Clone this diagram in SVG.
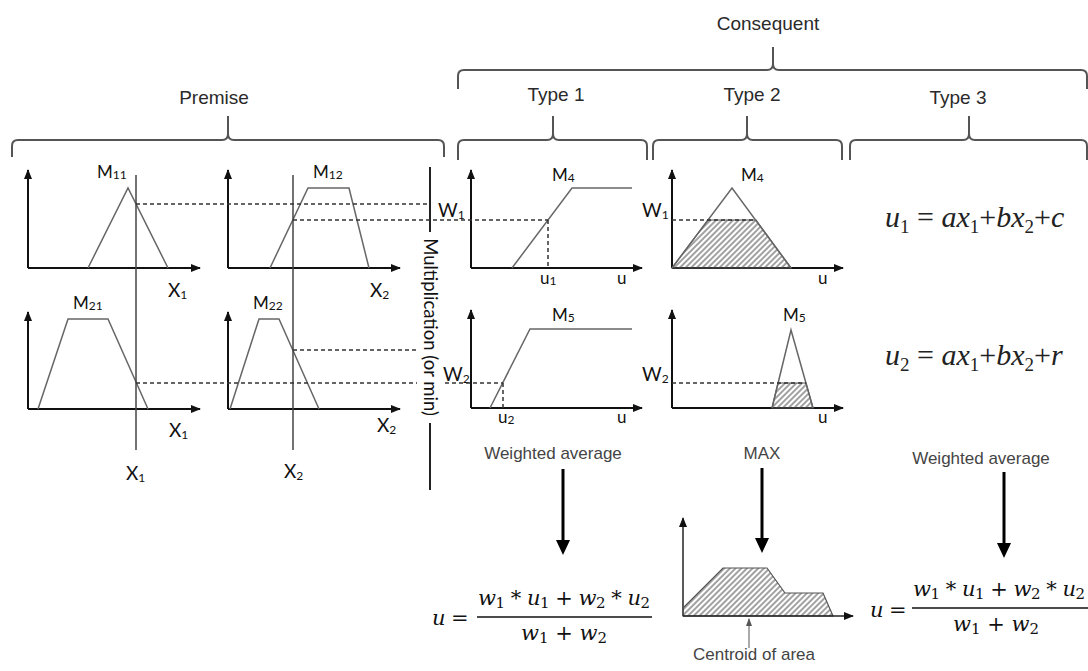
<svg xmlns="http://www.w3.org/2000/svg" width="1088" height="671" viewBox="0 0 1088 671">
<defs>
<style>
.brace{fill:none;stroke:#555;stroke-width:2}
.hd{font-family:"Liberation Sans",Arial,sans-serif;font-size:19px;fill:#2a2a2a;text-anchor:middle}
.ax{fill:none;stroke:#111;stroke-width:2;marker-end:url(#ah)}
.mf{fill:none;stroke:#666;stroke-width:1.5}
.vl{stroke:#444;stroke-width:1.5}
.dash{stroke:#333;stroke-width:1.5;stroke-dasharray:4 3;fill:none}
.lb{font-family:Lato,"Open Sans",sans-serif;font-size:17px;fill:#111}
.lbx{font-family:Lato,"Open Sans",sans-serif;font-size:19px;fill:#111}
.sub{font-size:12px}
.cap{font-family:"Liberation Sans",Arial,sans-serif;font-size:17px;fill:#444;text-anchor:middle}
.big{stroke:#000;stroke-width:3;fill:none;marker-end:url(#bh)}
.hat{fill:url(#hatch);stroke:#555;stroke-width:1.2}
.math{font-family:"DejaVu Serif","Liberation Serif",serif;font-size:21px;fill:#111}
.eq{font-family:"Liberation Serif","Times New Roman",serif;font-size:30px;fill:#222}
.it{font-style:italic}
</style>
<marker id="ah" viewBox="0 0 10 8" refX="9" refY="4" markerWidth="10" markerHeight="8" orient="auto" markerUnits="userSpaceOnUse"><path d="M0,0L10,4L0,8z" fill="#111"/></marker>
<marker id="bh" viewBox="0 0 15 14" refX="10" refY="7" markerWidth="15" markerHeight="14" orient="auto" markerUnits="userSpaceOnUse"><path d="M0,0L15,7L0,14z" fill="#000"/></marker>
<marker id="sh" viewBox="0 0 8 6" refX="7" refY="3" markerWidth="8" markerHeight="6" orient="auto" markerUnits="userSpaceOnUse"><path d="M0,0L8,3L0,6z" fill="#555"/></marker>
<pattern id="hatch" width="4" height="4" patternUnits="userSpaceOnUse" patternTransform="rotate(45)"><line x1="2" y1="0" x2="2" y2="4" stroke="#444" stroke-width="1"/></pattern>
</defs>
<rect width="1088" height="671" fill="#fff"/>

<!-- headers -->
<g id="premise">
<path class="brace" d="M12,157V146Q12,140 18,140H222Q228,140 228,134V116M228,134Q228,140 234,140H438Q444,140 444,146V157"/>
<text class="hd" x="214" y="104">Premise</text>
</g>
<g id="consequent">
<path class="brace" d="M458,89V76Q458,70 464,70H767Q773,70 773,64V47M773,64Q773,70 779,70H1081Q1087,70 1087,76V89"/>
<text class="hd" x="768" y="30">Consequent</text>
</g>
<g id="type1">
<path class="brace" d="M458,160V146Q458,140 464,140H547Q553,140 553,134V116M553,134Q553,140 559,140H641Q647,140 647,146V160"/>
<text class="hd" x="556" y="101">Type 1</text>
</g>
<g id="type2">
<path class="brace" d="M653,160V146Q653,140 659,140H741Q747,140 747,134V116M747,134Q747,140 753,140H836Q842,140 842,146V160"/>
<text class="hd" x="752" y="101">Type 2</text>
</g>
<g id="type3">
<path class="brace" d="M850,160V146Q850,140 856,140H963Q969,140 969,134V116M969,134Q969,140 975,140H1081Q1087,140 1087,146V160"/>
<text class="hd" x="958" y="104">Type 3</text>
</g>

<!-- premise graphs -->
<g id="m11">
<path class="ax" d="M28,268V170"/><path class="ax" d="M28,268H200"/>
<path class="mf" d="M88,268L128,188L168,268"/>
<text class="lb" x="97" y="178">M<tspan class="sub" dy="1">11</tspan></text>
<text class="lbx" x="168" y="297">X<tspan class="sub" dy="2">1</tspan></text>
</g>
<g id="m12">
<path class="ax" d="M228,268V170"/><path class="ax" d="M228,268H400"/>
<path class="mf" d="M270,268L308,188H349L369,268"/>
<text class="lb" x="313" y="178">M<tspan class="sub" dy="1">12</tspan></text>
<text class="lbx" x="370" y="297">X<tspan class="sub" dy="2">2</tspan></text>
</g>
<g id="m21">
<path class="ax" d="M28,409V312"/><path class="ax" d="M28,409H200"/>
<path class="mf" d="M38,409L68,319H108L148,409"/>
<text class="lb" x="73" y="309">M<tspan class="sub" dy="1">21</tspan></text>
<text class="lbx" x="169" y="437">X<tspan class="sub" dy="2">1</tspan></text>
</g>
<g id="m22">
<path class="ax" d="M228,409V312"/><path class="ax" d="M228,409H400"/>
<path class="mf" d="M230,409L259,319H279L319,409"/>
<text class="lb" x="253" y="309">M<tspan class="sub" dy="1">22</tspan></text>
<text class="lbx" x="377" y="432">X<tspan class="sub" dy="2">2</tspan></text>
</g>
<g id="inputs">
<line class="vl" x1="136" y1="175" x2="136" y2="450"/>
<line class="vl" x1="293" y1="175" x2="293" y2="450"/>
<text class="lbx" x="126" y="480">X<tspan class="sub" dy="2">1</tspan></text>
<text class="lbx" x="284" y="478">X<tspan class="sub" dy="2">2</tspan></text>
</g>
<g id="operator">
<line x1="430" y1="167" x2="430" y2="232" stroke="#222" stroke-width="2"/>
<line x1="430" y1="423" x2="430" y2="490" stroke="#222" stroke-width="2"/>
<text class="lb" transform="translate(424,327) rotate(90)" text-anchor="middle" style="font-size:18.5px">Multiplication (or min)</text>
</g>

<!-- consequent graphs -->
<g id="t1-m4">
<path class="ax" d="M471,268V170"/><path class="ax" d="M471,268H642"/>
<path class="mf" d="M512,268L572,188H632"/>
<text class="lb" x="552" y="181">M<tspan class="sub" dy="1">4</tspan></text>
<text class="lbx" x="438" y="217">W<tspan class="sub" dy="2">1</tspan></text>
<text class="lb" x="540" y="284">u<tspan class="sub" dy="1">1</tspan></text>
<text class="lb" x="617" y="284">u</text>
</g>
<g id="t2-m4">
<path class="ax" d="M672,268V170"/><path class="ax" d="M672,268H843"/>
<polygon class="hat" points="672,268 708,220 756,220 791,268"/>
<path class="mf" d="M672,268L732,188L791,268"/>
<text class="lb" x="741" y="181">M<tspan class="sub" dy="1">4</tspan></text>
<text class="lbx" x="642" y="217">W<tspan class="sub" dy="2">1</tspan></text>
<text class="lb" x="818" y="284">u</text>
</g>
<g id="t1-m5">
<path class="ax" d="M471,408V310"/><path class="ax" d="M471,408H642"/>
<path class="mf" d="M490,408L530,329H632"/>
<text class="lb" x="552" y="321">M<tspan class="sub" dy="1">5</tspan></text>
<text class="lbx" x="443" y="381">W<tspan class="sub" dy="2">2</tspan></text>
<text class="lb" x="498" y="423">u<tspan class="sub" dy="1">2</tspan></text>
<text class="lb" x="617" y="423">u</text>
</g>
<g id="t2-m5">
<path class="ax" d="M672,408V310"/><path class="ax" d="M672,408H843"/>
<polygon class="hat" points="772,408 778,383 806,383 813,408"/>
<path class="mf" d="M772,408L791,330L813,408"/>
<text class="lb" x="783" y="321">M<tspan class="sub" dy="1">5</tspan></text>
<text class="lbx" x="642" y="381">W<tspan class="sub" dy="2">2</tspan></text>
<text class="lb" x="818" y="423">u</text>
</g>
<g id="eq-u1">
<text class="eq" x="885" y="227"><tspan class="it">u</tspan><tspan font-size="19" dy="6">1</tspan><tspan dy="-6"> = </tspan><tspan class="it">ax</tspan><tspan font-size="19" dy="6">1</tspan><tspan dy="-6">+</tspan><tspan class="it">bx</tspan><tspan font-size="19" dy="6">2</tspan><tspan dy="-6">+</tspan><tspan class="it">c</tspan></text>
</g>
<g id="eq-u2">
<text class="eq" x="885" y="365"><tspan class="it">u</tspan><tspan font-size="19" dy="6">2</tspan><tspan dy="-6"> = </tspan><tspan class="it">ax</tspan><tspan font-size="19" dy="6">1</tspan><tspan dy="-6">+</tspan><tspan class="it">bx</tspan><tspan font-size="19" dy="6">2</tspan><tspan dy="-6">+</tspan><tspan class="it">r</tspan></text>
</g>

<!-- defuzzification -->
<g id="wa1"><text class="cap" x="553" y="459">Weighted average</text></g>
<g id="max"><text class="cap" x="762" y="459">MAX</text></g>
<g id="wa3"><text class="cap" x="981" y="464">Weighted average</text></g>
<g id="agg">
<path d="M683,616V518" stroke="#222" stroke-width="1.5" fill="none" marker-end="url(#ah)"/>
<polygon class="hat" points="683,616 683,608 723,568 767,568 785,593 823,593 833,616"/>
<path d="M683,616H853" stroke="#222" stroke-width="1.5" fill="none" marker-end="url(#ah)"/>
<text class="cap" x="754" y="660">Centroid of area</text>
</g>
<g id="formula-left" class="math">
<text x="432" y="625" class="it">u</text><text x="451" y="625">=</text>
<text x="564" y="605" text-anchor="middle" textLength="172"><tspan class="it">w</tspan><tspan font-size="15" dy="3">1</tspan><tspan dy="-3"> * </tspan><tspan class="it">u</tspan><tspan font-size="15" dy="3">1</tspan><tspan dy="-3"> + </tspan><tspan class="it">w</tspan><tspan font-size="15" dy="3">2</tspan><tspan dy="-3"> * </tspan><tspan class="it">u</tspan><tspan font-size="15" dy="3">2</tspan></text>
<line x1="477" y1="617" x2="652" y2="617" stroke="#111" stroke-width="1.5"/>
<text x="564" y="640" text-anchor="middle"><tspan class="it">w</tspan><tspan font-size="15" dy="3">1</tspan><tspan dy="-3"> + </tspan><tspan class="it">w</tspan><tspan font-size="15" dy="3">2</tspan></text>
</g>
<g id="formula-right" class="math">
<text x="870" y="617" class="it">u</text><text x="889" y="617">=</text>
<text x="913" y="596" textLength="172"><tspan class="it">w</tspan><tspan font-size="15" dy="3">1</tspan><tspan dy="-3"> * </tspan><tspan class="it">u</tspan><tspan font-size="15" dy="3">1</tspan><tspan dy="-3"> + </tspan><tspan class="it">w</tspan><tspan font-size="15" dy="3">2</tspan><tspan dy="-3"> * </tspan><tspan class="it">u</tspan><tspan font-size="15" dy="3">2</tspan></text>
<line x1="912" y1="608" x2="1088" y2="608" stroke="#111" stroke-width="1.5"/>
<text x="996" y="631" text-anchor="middle"><tspan class="it">w</tspan><tspan font-size="15" dy="3">1</tspan><tspan dy="-3"> + </tspan><tspan class="it">w</tspan><tspan font-size="15" dy="3">2</tspan></text>
</g>

<!-- connectors -->
<g id="connectors">
<line class="dash" x1="136" y1="204" x2="430" y2="204"/>
<line class="dash" x1="293" y1="220" x2="548" y2="220"/>
<line class="dash" x1="548" y1="220" x2="548" y2="268"/>
<line class="dash" x1="672" y1="220" x2="756" y2="220"/>
<line class="dash" x1="293" y1="350" x2="417" y2="350"/>
<line class="dash" x1="136" y1="383" x2="417" y2="383"/>
<line class="dash" x1="445" y1="383" x2="503" y2="383"/>
<line class="dash" x1="503" y1="383" x2="503" y2="408"/>
<line class="dash" x1="672" y1="383" x2="806" y2="383"/>
<line class="big" x1="563" y1="469" x2="563" y2="550"/>
<line class="big" x1="762" y1="468" x2="762" y2="548"/>
<line class="big" x1="1004" y1="472" x2="1004" y2="553"/>
<line x1="749" y1="648" x2="749" y2="619" stroke="#555" stroke-width="1" marker-end="url(#sh)"/>
</g>
</svg>
